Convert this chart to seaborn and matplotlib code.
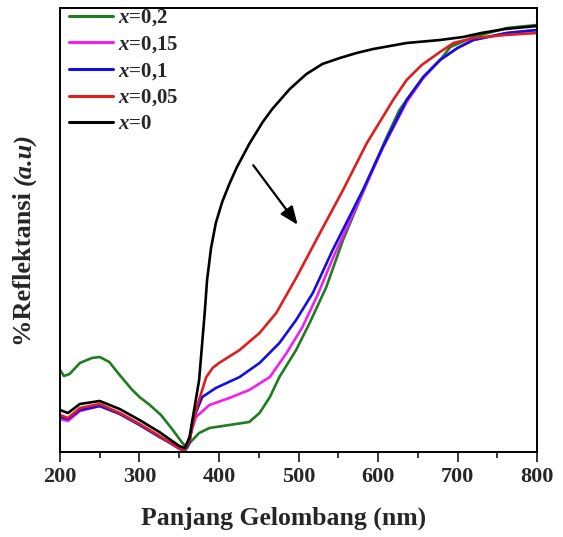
import numpy as np
import pandas as pd
import matplotlib
matplotlib.use("Agg")
import matplotlib.pyplot as plt
import seaborn as sns

# Reflectance spectra (arbitrary units)
wl_x0 = [200, 210, 225, 250, 275, 300, 325, 350, 357, 363, 375, 382, 385, 390, 396, 404, 413, 422, 438, 455, 467, 489, 510, 530, 552, 573, 594, 615, 636, 678, 707, 730, 760, 800]
r_x0 = [42, 39, 48, 51, 43, 32, 20, 6, 4, 15, 72, 139, 172, 204, 229, 250, 268, 284, 308, 330, 343, 363, 378, 388, 394, 399, 403, 406, 409, 412, 415, 419, 423, 426]

wl_x005 = [200, 210, 225, 250, 275, 300, 325, 350, 357, 363, 371, 384, 392, 400, 426, 451, 472, 497, 527, 556, 586, 606, 619, 636, 655, 678, 695, 720, 760, 800]
r_x005 = [37, 34, 44, 48, 39, 28, 16, 4, 2, 12, 42, 75, 84, 89, 102, 119, 139, 174, 219, 262, 309, 335, 352, 372, 387, 400, 409, 414, 417, 419]

wl_x01 = [200, 210, 225, 250, 275, 300, 325, 350, 357, 363, 367, 379, 396, 426, 451, 476, 497, 518, 543, 581, 606, 636, 657, 678, 700, 720, 762, 800]
r_x01 = [35, 33, 42, 46, 38, 27, 15, 4, 1, 10, 32, 55, 64, 75, 89, 109, 132, 159, 202, 262, 305, 352, 375, 392, 404, 412, 419, 422]

wl_x015 = [200, 210, 225, 250, 275, 300, 325, 350, 357, 363, 371, 388, 413, 438, 464, 485, 505, 524, 545, 581, 606, 636, 657, 678, 700, 720, 762, 800]
r_x015 = [33, 31, 41, 46, 39, 28, 16, 3, 1, 15, 35, 47, 54, 62, 75, 99, 125, 157, 197, 260, 304, 350, 374, 392, 404, 412, 419, 422]

wl_x02 = [200, 205, 212, 225, 240, 250, 262, 275, 291, 300, 313, 327, 340, 354, 360, 363, 375, 388, 413, 438, 451, 464, 476, 497, 514, 535, 556, 586, 611, 627, 657, 678, 691, 720, 762, 800]
r_x02 = [82, 76, 78, 89, 94, 95, 90, 77, 62, 55, 47, 37, 24, 9, 4, 9, 19, 24, 27, 30, 39, 55, 75, 102, 129, 165, 212, 269, 315, 342, 375, 392, 405, 415, 424, 427]

labels = ["x=0,2", "x=0,15", "x=0,1", "x=0,05", "x=0"]
legend_labels = [r"$\mathbfit{x}$=0,2", r"$\mathbfit{x}$=0,15", r"$\mathbfit{x}$=0,1",
                 r"$\mathbfit{x}$=0,05", r"$\mathbfit{x}$=0"]
colors = ["#1e7d1e", "#f21ef2", "#1010e6", "#e01e1e", "#000000"]

xticks = [200, 300, 400, 500, 600, 700, 800]

frames = []
for lab, wl, r in zip(labels, [wl_x02, wl_x015, wl_x01, wl_x005, wl_x0],
                      [r_x02, r_x015, r_x01, r_x005, r_x0]):
    frames.append(pd.DataFrame({"wl": wl, "R": r, "sample": lab}))
df = pd.concat(frames, ignore_index=True)

sns.set_style("white")
plt.rcParams["font.family"] = ["Liberation Serif", "DejaVu Serif"]
plt.rcParams["font.weight"] = "bold"
plt.rcParams["mathtext.fontset"] = "custom"
plt.rcParams["mathtext.rm"] = "Liberation Serif:weight=bold"
plt.rcParams["mathtext.bf"] = "Liberation Serif:weight=bold"
plt.rcParams["mathtext.it"] = "Liberation Serif:style=italic:weight=bold"
plt.rcParams["mathtext.bfit"] = "Liberation Serif:style=italic:weight=bold"

fig = plt.figure(figsize=(5.63, 5.37), dpi=100)
ax = fig.add_axes([60 / 563, 85 / 537, 477 / 563, 444 / 537])

sns.lineplot(data=df, x="wl", y="R", hue="sample", hue_order=labels,
             palette=dict(zip(labels, colors)), estimator=None, sort=False,
             linewidth=1.9, ax=ax)

ax.set_xlim(200, 800)
ax.set_ylim(0, 444)
ax.set_xticks(xticks)
ax.set_xticks(np.arange(250, 800, 100), minor=True)
ax.set_yticks([])
ax.tick_params(axis="x", which="major", direction="out", length=7, width=1.3,
               labelsize=16, pad=4, bottom=True)
ax.tick_params(axis="x", which="minor", direction="out", length=4, width=1.3, bottom=True)
for lbl in ax.get_xticklabels():
    lbl.set_fontweight("bold")
for s in ax.spines.values():
    s.set_linewidth(1.4)
    s.set_color("black")

ax.set_xlabel("Panjang Gelombang (nm)", fontsize=18.5, fontweight="bold")
ax.xaxis.set_label_coords((284 - 60) / 477, -(518 - 452) / 444)
ax.xaxis.label.set_va("center")
ax.set_ylabel("")

# y label: bold part followed by bold-italic part
t1 = fig.text(25 / 563, (537 - 346) / 537, "%Reflektansi ", rotation=90,
              ha="center", va="bottom", fontsize=19, fontweight="bold")
fig.canvas.draw()
bb = t1.get_window_extent(renderer=fig.canvas.get_renderer())
y_top = bb.y1 / fig.bbox.height
fig.text(25 / 563, y_top, "(a.u)", rotation=90, ha="center", va="bottom",
         fontsize=19, fontweight="bold", fontstyle="italic")

handles, _ = ax.get_legend_handles_labels()
leg = ax.legend(handles, legend_labels, loc="upper left", frameon=False,
                bbox_to_anchor=(0.012, 1.008),
                fontsize=15, handlelength=2.1, handletextpad=0.25,
                labelspacing=0.28, borderaxespad=0.1, borderpad=0.05)
for h in leg.get_lines():
    h.set_linewidth(2.2)

ax.annotate("", xy=(501, 225), xytext=(441, 289),
            arrowprops=dict(arrowstyle="-|>,head_length=1.1,head_width=0.45",
                            color="black", lw=1.6))

fig.savefig("out.png", dpi=100)
